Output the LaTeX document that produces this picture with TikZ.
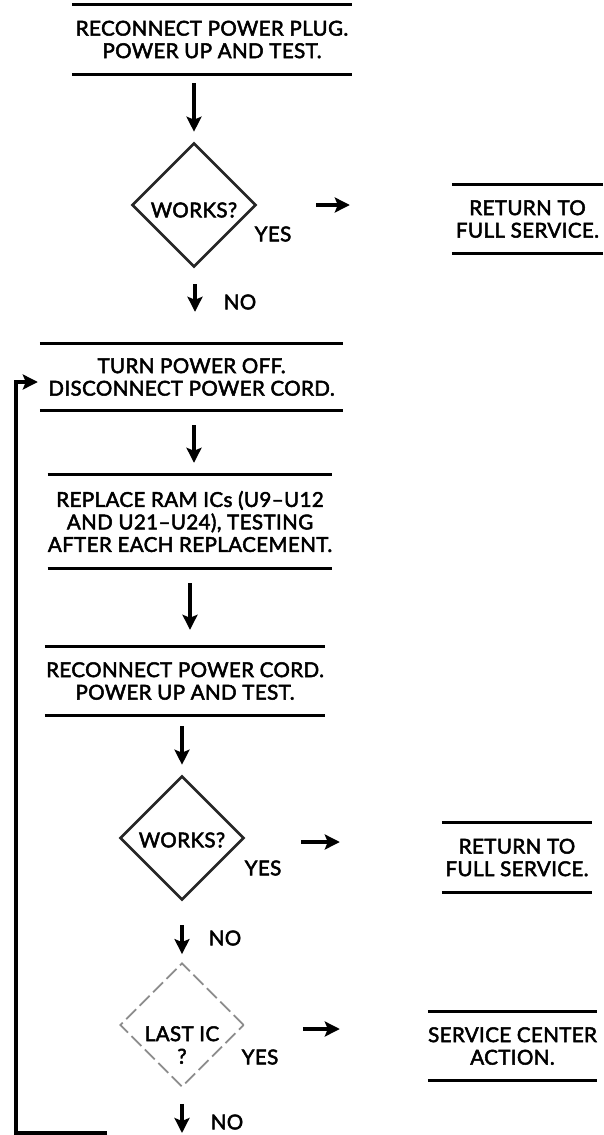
\documentclass[tikz,border=0pt]{standalone}
\usepackage{fontspec}
\setmainfont{Lato}[LetterSpace=2.0,FakeBold=2.5]
\usetikzlibrary{positioning,arrows.meta,shapes.geometric}

\tikzset{
  stepbox/.style={inner sep=0pt,align=center,font=\fontsize{20.5}{22.5}\selectfont},
  rule/.style={line width=3pt},
  decision/.style={diamond,draw=black!85,line width=2.6pt,minimum width=124pt,minimum height=124pt,inner sep=0pt},
  faint/.style={draw=black!45,line width=1.8pt,dash pattern=on 14pt off 5pt},
  arr/.style={line width=3.4pt,-{Stealth[length=15pt,width=15pt,inset=3pt]}},
  lbl/.style={font=\fontsize{20.5}{22.5}\selectfont,inner sep=0pt},
}

\begin{document}
\begin{tikzpicture}[x=1pt,y=-1pt]
\useasboundingbox (0,0) rectangle (604,1135);
% action boxes
\node[stepbox,minimum width=280pt,minimum height=69pt] (b1) at (212,39.5) {RECONNECT POWER PLUG.\\POWER UP AND TEST.};
\node[stepbox,minimum width=303pt,minimum height=66pt] (b2) at (191.5,377) {TURN POWER OFF.\\DISCONNECT POWER CORD.};
\node[stepbox,minimum width=284pt,minimum height=93pt] (b3) at (190,521.5) {REPLACE RAM ICs (U9--U12\\AND U21--U24), TESTING\\AFTER EACH REPLACEMENT.};
\node[stepbox,minimum width=280pt,minimum height=68pt] (b4) at (185,681) {RECONNECT POWER CORD.\\POWER UP AND TEST.};
\node[stepbox,minimum width=151pt,minimum height=68pt] (r1) at (527.5,219) {RETURN TO\\FULL SERVICE.};
\node[stepbox,minimum width=150pt,minimum height=69pt] (r2) at (517,857.5) {RETURN TO\\FULL SERVICE.};
\node[stepbox,minimum width=169pt,minimum height=68pt] (s3) at (512.5,1046) {SERVICE CENTER\\ACTION.};
\foreach \n in {b1,b2,b3,b4,r1,r2,s3}
  \draw[rule] (\n.north west) -- (\n.north east) (\n.south west) -- (\n.south east);

% decisions
\node[decision] (d1) at (194,205) {};
\node[lbl] (q1) at ([yshift=-5pt]d1.center) {WORKS?};
\node[decision] (d2) at (182,838) {};
\node[lbl] (q2) at ([yshift=-2pt]d2.center) {WORKS?};
\node[decision,faint] (d3) at (182,1025) {};
\node[lbl,align=center] (q3) at ([yshift=-20pt]d3.center) {LAST IC\\?};

% yes / no labels
\node[lbl] (yes1) at (273,234) {YES};
\node[lbl] (yes2) at (263,868) {YES};
\node[lbl] (yes3) at (260,1057) {YES};
\node[lbl] (no1) at (240,302) {NO};
\node[lbl] (no2) at (225,938) {NO};
\node[lbl] (no3) at (227,1122) {NO};

\coordinate (end) at (182,1135);
\coordinate (fb) at (107,1133);
\coordinate (lp) at (16,1133);

% flow
\draw[arr,shorten <=9pt,shorten >=10pt] (b1.south -| d1.north) -- (d1.north);
\draw[arr,shorten <=59pt,shorten >=102pt] (d1.east) -- (r1.west |- d1.east);
\draw[arr,shorten <=16pt,shorten >=32pt] ([xshift=1pt]d1.south) -- ([xshift=1pt]d1.south |- b2.north);
\draw[arr,shorten <=15pt,shorten >=12pt] (b2.south -| d1.south) -- (b3.north -| d1.south);
\draw[arr,shorten <=15pt,shorten >=17pt] ([xshift=-4pt]b3.south -| d1.south) -- ([xshift=-4pt]b4.north -| d1.south);
\draw[arr,shorten <=11pt,shorten >=10pt] (b4.south -| d2.north) -- (d2.north);
\draw[arr,shorten <=56pt,shorten >=102pt] ([yshift=-4pt]d2.east) -- ([yshift=-4pt]r2.west |- d2.east);
\draw[arr,shorten <=24pt,shorten >=8pt] (d2.south) -- (d3.north);
\draw[arr,shorten <=58pt,shorten >=88pt] ([yshift=-4pt]d3.east) -- ([yshift=-4pt]s3.west |- d3.east);
\draw[arr,shorten <=16pt,shorten >=2pt] (d3.south) -- (end);
\draw[arr] (fb) -- (lp) |- ([xshift=-2pt,yshift=-5pt]b2.west);
\end{tikzpicture}
\end{document}
